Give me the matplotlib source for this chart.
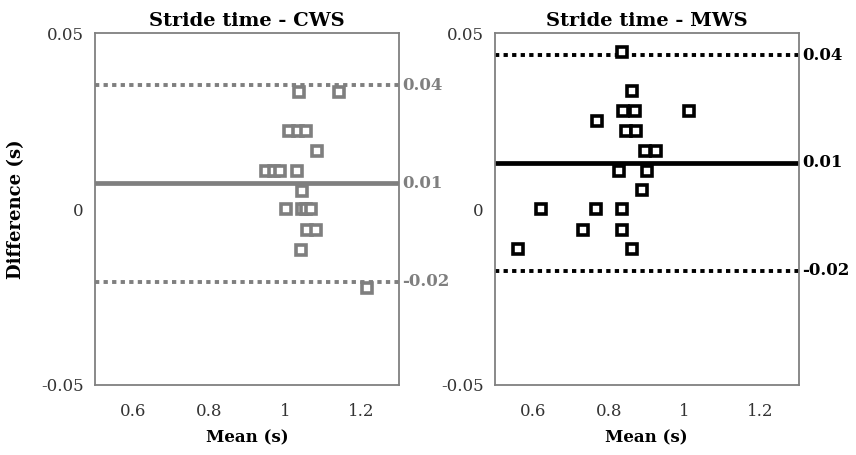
import numpy as np
import matplotlib
matplotlib.use('Agg')
import matplotlib.pyplot as plt
import matplotlib.transforms as mtransforms

plt.rcParams['font.family'] = ['DejaVu Serif']

# CWS (comfortable walking speed)
cws_mean = [1.037, 1.142, 1.011, 1.035, 1.055, 1.085, 0.950, 0.971, 0.988, 1.031,
            1.045, 1.003, 1.045, 1.056, 1.068, 1.059, 1.083, 1.041, 1.215]
cws_diff = [0.0333, 0.0333, 0.0222, 0.0222, 0.0222, 0.0166, 0.0109, 0.0109, 0.0109, 0.0109,
            0.0052, 0.0, 0.0, 0.0, 0.0, -0.006, -0.006, -0.0115, -0.0225]
cws_bias = 0.0074
cws_loa = [0.0352, -0.0207]
cws_labels = ['0.01', '0.04', '-0.02']

# MWS (maximum walking speed)
mws_mean = [0.836, 0.862, 0.838, 0.870, 1.012, 0.768, 0.846, 0.871, 0.895, 0.924,
            0.827, 0.902, 0.888, 0.622, 0.767, 0.836, 0.731, 0.834, 0.560, 0.862]
mws_diff = [0.0447, 0.0335, 0.0278, 0.0278, 0.0278, 0.0251, 0.0222, 0.0222, 0.0166, 0.0166,
            0.0109, 0.0109, 0.0054, 0.0, 0.0, 0.0, -0.006, -0.006, -0.0114, -0.0114]
mws_bias = 0.0131
mws_loa = [0.0437, -0.0176]
mws_labels = ['0.01', '0.04', '-0.02']

fig = plt.figure(figsize=(8.56, 4.55), dpi=100)
ax1 = fig.add_axes([0.111, 0.154, 0.355, 0.773])
ax2 = fig.add_axes([0.578, 0.154, 0.355, 0.773])


def bland_altman(ax, x, y, bias, loa, labels, color, title):
    ax.plot(x, y, linestyle='none', marker='s', markersize=6.5, markeredgewidth=2.6,
            markerfacecolor='white', markeredgecolor=color, zorder=3)
    ax.axhline(bias, color=color, lw=3.4, zorder=2)
    for v in loa:
        ax.axhline(v, color=color, lw=2.8, linestyle=(0, (1.1, 1.1)), zorder=2)
    trans = mtransforms.blended_transform_factory(ax.transAxes, ax.transData)
    for v, lab in zip([bias] + loa, labels):
        ax.text(1.012, v, lab, transform=trans, color=color, fontsize=12,
                fontweight='bold', va='center', ha='left')
    ax.set_xlim(0.5, 1.3)
    ax.set_ylim(-0.05, 0.05)
    ax.set_xticks([0.6, 0.8, 1.0, 1.2])
    ax.set_xticklabels(['0.6', '0.8', '1', '1.2'])
    ax.set_yticks([-0.05, 0, 0.05])
    ax.set_yticklabels(['-0.05', '0', '0.05'])
    ax.tick_params(length=0, labelsize=12, colors='#333333')
    ax.tick_params(axis='x', pad=13)
    ax.tick_params(axis='y', pad=8)
    for s in ax.spines.values():
        s.set_color('#808080')
        s.set_linewidth(1.3)
    ax.set_xlabel('Mean (s)', fontsize=12, fontweight='bold', labelpad=7)
    ax.set_title(title, fontsize=14, fontweight='bold', pad=5)


bland_altman(ax1, cws_mean, cws_diff, cws_bias, cws_loa, cws_labels, '#7f7f7f', 'Stride time - CWS')
bland_altman(ax2, mws_mean, mws_diff, mws_bias, mws_loa, mws_labels, 'black', 'Stride time - MWS')
ax1.set_ylabel('Difference (s)', fontsize=13, fontweight='bold', labelpad=12)

fig.savefig('out.png', dpi=100)
